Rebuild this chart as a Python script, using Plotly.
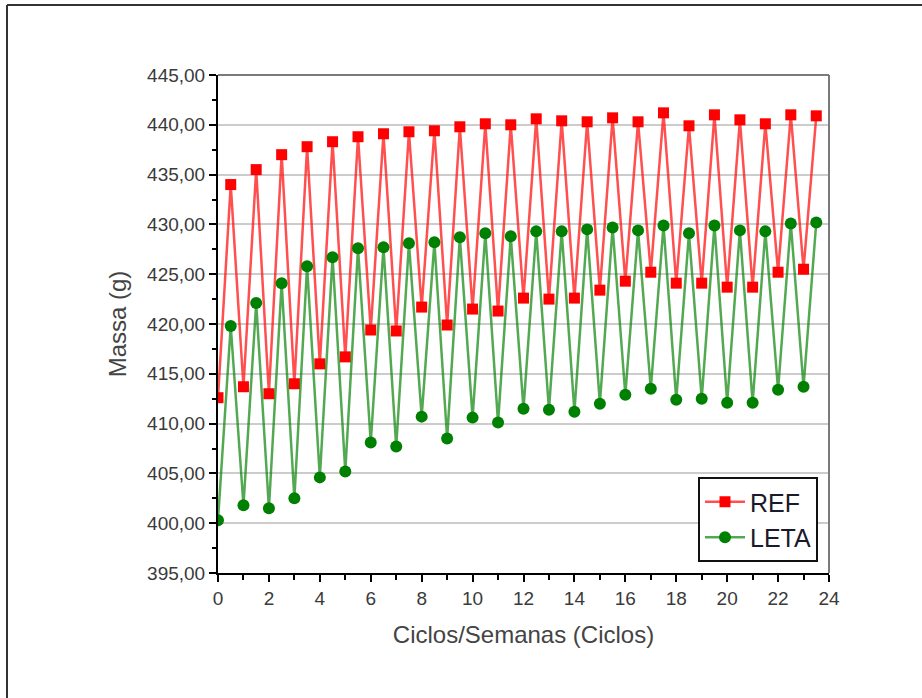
import plotly.graph_objects as go

# Weekly cycles: x = 0, 0.5, 1, ..., 23.5
ciclos = [i * 0.5 for i in range(48)]

massa_ref = [
    412.6, 434.0, 413.7, 435.5, 413.0, 437.0, 414.0, 437.8,
    416.0, 438.3, 416.7, 438.8, 419.4, 439.1, 419.3, 439.3,
    421.7, 439.4, 419.9, 439.8, 421.5, 440.1, 421.3, 440.0,
    422.6, 440.6, 422.5, 440.4, 422.6, 440.3, 423.4, 440.7,
    424.3, 440.3, 425.2, 441.2, 424.1, 439.9, 424.1, 441.0,
    423.7, 440.5, 423.7, 440.1, 425.2, 441.0, 425.5, 440.9,
]

massa_leta = [
    400.3, 419.8, 401.8, 422.1, 401.5, 424.1, 402.5, 425.8,
    404.6, 426.7, 405.2, 427.6, 408.1, 427.7, 407.7, 428.1,
    410.7, 428.2, 408.5, 428.7, 410.6, 429.1, 410.1, 428.8,
    411.5, 429.3, 411.4, 429.3, 411.2, 429.5, 412.0, 429.7,
    412.9, 429.4, 413.5, 429.9, 412.4, 429.1, 412.5, 429.9,
    412.1, 429.4, 412.1, 429.3, 413.4, 430.1, 413.7, 430.2,
]

FONT = "Liberation Sans, Arial, sans-serif"

fig = go.Figure()
fig.add_trace(go.Scatter(
    x=ciclos, y=massa_ref, name="REF", mode="lines+markers",
    line=dict(color="rgba(255,20,20,0.75)", width=2.5),
    marker=dict(symbol="square", size=11, color="#ff0000"),
))
fig.add_trace(go.Scatter(
    x=ciclos, y=massa_leta, name="LETA", mode="lines+markers",
    line=dict(color="rgba(0,128,0,0.68)", width=2.5),
    marker=dict(symbol="circle", size=12, color="#008000"),
))

W, H = 922, 698
L, R, T, B = 218, 93, 75, 125
pw, ph = W - L - R, H - T - B

def px_x(p):
    return (p - L) / pw

def px_y(p):
    return (H - B - p) / ph

shapes = [
    # gray top and right frame of the plot area
    dict(type="line", xref="paper", yref="paper", x0=0, x1=1, y0=1, y1=1,
         line=dict(color="#7a7a7a", width=2)),
    dict(type="line", xref="paper", yref="paper", x0=1, x1=1, y0=0, y1=1,
         line=dict(color="#7a7a7a", width=2)),
    # outer page border (top and left)
    dict(type="line", xref="paper", yref="paper", x0=px_x(7), x1=px_x(W + 5),
         y0=px_y(5), y1=px_y(5), line=dict(color="#333333", width=2)),
    dict(type="line", xref="paper", yref="paper", x0=px_x(7), x1=px_x(7),
         y0=px_y(5), y1=px_y(H + 5), line=dict(color="#333333", width=2)),
]

fig.update_layout(
    width=W, height=H,
    margin=dict(l=L, r=R, t=T, b=B),
    paper_bgcolor="white", plot_bgcolor="white",
    separators=",.",
    font=dict(family=FONT, color="#3a3a3a"),
    showlegend=True,
    legend=dict(
        x=px_x(818), y=px_y(562), xanchor="right", yanchor="bottom",
        bgcolor="white", bordercolor="#111111", borderwidth=2,
        font=dict(family=FONT, size=25, color="#1a1a2a"),
        tracegroupgap=0, itemwidth=40,
    ),
    shapes=shapes,
)

fig.update_xaxes(
    range=[0, 24], tickmode="linear", tick0=0, dtick=2,
    ticks="outside", ticklen=7, tickwidth=1.5, tickcolor="black",
    minor=dict(tickmode="linear", tick0=0, dtick=1, ticks="outside",
               ticklen=5, tickwidth=1.5, tickcolor="black", showgrid=False),
    showline=True, linecolor="black", linewidth=2, mirror=False,
    showgrid=False, zeroline=False,
    tickfont=dict(family=FONT, size=19, color="#3a3a3a"),
    title=dict(text="Ciclos/Semanas (Ciclos)",
               font=dict(family=FONT, size=24, color="#444444"), standoff=18),
)

fig.update_yaxes(
    range=[395, 445], tickmode="linear", tick0=395, dtick=5,
    tickformat=".2f",
    ticks="outside", ticklen=7, tickwidth=1.5, tickcolor="black",
    minor=dict(tickmode="linear", tick0=395, dtick=2.5, ticks="outside",
               ticklen=4, tickwidth=1.5, tickcolor="black", showgrid=False),
    showline=True, linecolor="black", linewidth=2, mirror=False,
    showgrid=True, gridcolor="#cccccc", gridwidth=1.5, zeroline=False,
    tickfont=dict(family=FONT, size=19, color="#3a3a3a"),
    title=dict(text="Massa (g)",
               font=dict(family=FONT, size=24, color="#444444"), standoff=14),
)

fig.write_html("out.html")
